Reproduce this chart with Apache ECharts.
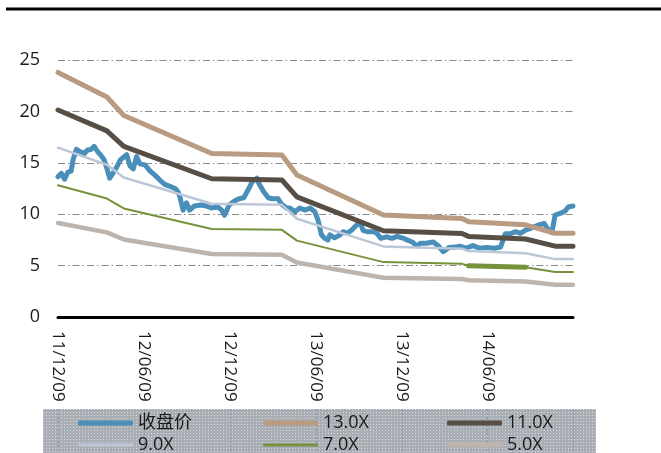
<!DOCTYPE html>
<html>
<head>
<meta charset="utf-8">
<script src="https://cdn.jsdelivr.net/npm/echarts@6/dist/echarts.min.js"></script>
<style>
  html, body { margin: 0; padding: 0; background: #fff; }
  #main { width: 661px; height: 453px; }
</style>
</head>
<body>
<div id="main"></div>
<script>
// axis range and tick labels (yy/mm/dd)
var startDate = '2011-12-09';
var endDate = '2014-12-08';
var tickLabels = ['11/12/09', '12/06/09', '12/12/09', '13/06/09', '13/12/09', '14/06/09'];
var yMin = 0, yMax = 25, yStep = 5;

var seriesNames = ['收盘价', '13.0X', '11.0X', '9.0X', '7.0X', '5.0X'];
var seriesColors = ['#4a8fb9', '#b89b80', '#574e46', '#bcc8d8', '#76933c', '#bdb5ad'];

// PE band knots
var bandDates = ['2011-12-09', '2012-03-22', '2012-04-27', '2012-10-31', '2013-03-29', '2013-04-30',
  '2013-10-31', '2014-04-16', '2014-04-30', '2014-08-29', '2014-10-31', '2014-12-08'];
var pe13 = [23.79, 21.40, 19.60, 15.90, 15.76, 13.81, 9.92, 9.59, 9.27, 8.97, 8.14, 8.14];
var pe11 = [20.13, 18.11, 16.59, 13.45, 13.33, 11.68, 8.39, 8.12, 7.84, 7.59, 6.89, 6.89];
var pe9 = [16.47, 14.81, 13.57, 11.01, 10.91, 9.56, 6.87, 6.64, 6.42, 6.21, 5.63, 5.63];
var pe7 = [12.81, 11.52, 10.56, 8.56, 8.48, 7.43, 5.34, 5.17, 4.99, 4.83, 4.38, 4.38];
var pe5 = [9.15, 8.23, 7.54, 6.12, 6.06, 5.31, 3.82, 3.69, 3.57, 3.45, 3.13, 3.13];
// short heavier piece of the 7.0X line
var pe7BoldDates = ['2014-04-30', '2014-08-29'];
var pe7Bold = [4.99, 4.83];

// close price
var priceDates = [
  '2011-12-09', '2011-12-16', '2011-12-23', '2011-12-30', '2012-01-06', '2012-01-10', '2012-01-17', '2012-01-24',
  '2012-02-03', '2012-02-10', '2012-02-17', '2012-02-24', '2012-03-02', '2012-03-09', '2012-03-16', '2012-03-23',
  '2012-03-28', '2012-04-04', '2012-04-12', '2012-04-20', '2012-05-03', '2012-05-10', '2012-05-17', '2012-05-24',
  '2012-05-31', '2012-06-11', '2012-06-22', '2012-07-02', '2012-07-13', '2012-07-23', '2012-08-03', '2012-08-14',
  '2012-08-20', '2012-08-24', '2012-08-31', '2012-09-07', '2012-09-14', '2012-09-17', '2012-09-24', '2012-10-08',
  '2012-10-19', '2012-10-30', '2012-11-13', '2012-11-21', '2012-11-27', '2012-12-07', '2012-12-19', '2012-12-28',
  '2013-01-07', '2013-01-16', '2013-01-25', '2013-02-04', '2013-02-08', '2013-02-18', '2013-02-28', '2013-03-08',
  '2013-03-21', '2013-03-28', '2013-04-08', '2013-04-15', '2013-04-26', '2013-05-06', '2013-05-17', '2013-05-28',
  '2013-06-07', '2013-06-14', '2013-06-21', '2013-06-28', '2013-07-05', '2013-07-09', '2013-07-19', '2013-07-31',
  '2013-08-07', '2013-08-14', '2013-08-23', '2013-09-04', '2013-09-11', '2013-09-18', '2013-09-27', '2013-10-10',
  '2013-10-18', '2013-10-25', '2013-11-07', '2013-11-18', '2013-11-29', '2013-12-13', '2013-12-20', '2013-12-31',
  '2014-01-10', '2014-01-17', '2014-01-30', '2014-02-14', '2014-02-25', '2014-03-07', '2014-03-19', '2014-04-02',
  '2014-04-11', '2014-04-25', '2014-05-09', '2014-05-23', '2014-06-09', '2014-06-23', '2014-07-07', '2014-07-17',
  '2014-07-28', '2014-08-08', '2014-08-18', '2014-08-29', '2014-09-09', '2014-09-23', '2014-10-08', '2014-10-14',
  '2014-10-24', '2014-10-31', '2014-11-12', '2014-11-21', '2014-11-28', '2014-12-08'
];
var priceValues = [
  13.65, 13.98, 13.4, 14.1, 14.2, 15.3, 16.3, 16.1,
  15.9, 16.25, 16.3, 16.6, 16.1, 15.75, 15.3, 14.3,
  13.5, 14.0, 14.6, 15.3, 15.8, 14.7, 14.4, 15.6,
  14.9, 14.8, 14.2, 13.8, 13.3, 12.9, 12.7, 12.5,
  12.2, 11.7, 10.4, 11.1, 10.4, 10.24, 10.8, 10.9,
  10.8, 10.6, 10.7, 10.4, 9.9, 10.9, 11.3, 11.5,
  11.6, 12.35, 13.16, 13.5, 13.0, 12.2, 11.6, 11.5,
  11.5, 11.0, 10.6, 10.6, 10.24, 10.6, 10.4, 10.6,
  10.24, 9.4, 8.0, 7.65, 7.5, 8.0, 7.7, 8.0,
  8.3, 8.14, 8.4, 8.95, 9.2, 8.4, 8.3, 8.3,
  8.1, 7.65, 7.8, 7.65, 7.85, 7.65, 7.5, 7.3,
  6.9, 7.17, 7.17, 7.3, 6.9, 6.35, 6.75, 6.8,
  6.9, 6.7, 6.95, 6.7, 6.75, 6.68, 6.8, 8.1,
  8.1, 8.3, 8.14, 8.46, 8.63, 8.9, 9.1, 8.63,
  8.2, 9.92, 10.1, 10.3, 10.7, 10.8
];

function toTime(s) {
  var p = s.split('-');
  return new Date(+p[0], +p[1] - 1, +p[2]).getTime();
}
function labelTime(l) {
  var p = l.split('/');
  return new Date(2000 + +p[0], +p[1] - 1, +p[2]).getTime();
}
function pairs(dates, values) {
  return dates.map(function (d, i) { return [toTime(d), values[i]]; });
}

var tickTimes = tickLabels.map(labelTime);
var font = '"Open Sans", "Noto Sans", "Noto Sans CJK SC", sans-serif';

var lineWidths = [5, 5, 5, 2.5, 2, 4.5];
var bandValues = [null, pe13, pe11, pe9, pe7, pe5];

var series = seriesNames.map(function (name, i) {
  return {
    name: name,
    type: 'line',
    data: i === 0 ? pairs(priceDates, priceValues) : pairs(bandDates, bandValues[i]),
    symbol: 'none',
    color: seriesColors[i],
    lineStyle: { width: lineWidths[i], color: seriesColors[i], cap: 'round', join: 'round' },
    animation: false
  };
});
series.push({
  name: '7.0X',
  type: 'line',
  data: pairs(pe7BoldDates, pe7Bold),
  symbol: 'none',
  lineStyle: { width: 5, color: seriesColors[4], cap: 'round' },
  animation: false
});

// dotted grey fill for the legend box
var pat = document.createElement('canvas');
pat.width = 3; pat.height = 3;
var pctx = pat.getContext('2d');
pctx.fillStyle = '#a9aeb4';
pctx.fillRect(0, 0, 3, 3);
pctx.fillStyle = '#d6d9dd';
pctx.fillRect(1, 1, 1, 1);

// one legend per entry: 3 columns x 2 rows
var legendCols = [78, 263, 447];
var legendRows = [414, 436];
var legendThick = [5, 5, 5, 3, 3, 5];
var legendOrder = ['收盘价', '13.0X', '11.0X', '9.0X', '7.0X', '5.0X'];
var legends = legendOrder.map(function (name, i) {
  return {
    data: [name],
    left: legendCols[i % 3],
    top: legendRows[Math.floor(i / 3)],
    padding: 0,
    icon: 'roundRect',
    itemWidth: 55,
    itemHeight: legendThick[i],
    z: 30,
    textStyle: { fontSize: 18, color: '#1a1a1a', fontFamily: font, lineHeight: 18 }
  };
});

var myChart = echarts.init(document.getElementById('main'));
myChart.setOption({
  backgroundColor: '#fff',
  animation: false,
  grid: { left: 58, right: 88, top: 60, bottom: 136, outerBoundsMode: 'none' },
  legend: legends,
  xAxis: {
    type: 'value',
    min: toTime(startDate),
    max: toTime(endDate),
    axisLine: { show: true, onZero: false, lineStyle: { color: '#000', width: 3 } },
    axisTick: { show: false },
    splitLine: { show: false },
    axisLabel: {
      customValues: tickTimes,
      rotate: -90,
      margin: 14,
      fontSize: 17,
      color: '#1a1a1a',
      fontFamily: font,
      formatter: function (v) {
        var i = tickTimes.indexOf(v);
        return i >= 0 ? tickLabels[i] : '';
      }
    }
  },
  yAxis: {
    type: 'value',
    min: yMin,
    max: yMax,
    interval: yStep,
    axisLine: { show: false },
    axisTick: { show: false },
    axisLabel: { fontSize: 18, color: '#1a1a1a', margin: 18, fontFamily: font },
    splitLine: { lineStyle: { color: '#8a8a8a', width: 1, type: [7, 3, 1.5, 3] } }
  },
  series: series
});

// legend box and page rule, placed from the axis
var g = [
  { type: 'line', z: 20, shape: { x1: 6, y1: 9, x2: 661, y2: 9 }, style: { stroke: '#000', lineWidth: 3 } },
  { type: 'rect', z: 20, shape: { x: 43, y: 409, width: 553, height: 50 }, style: { fill: { image: pat, repeat: 'repeat' } } }
];
var gridTimes = tickTimes.concat([labelTime('14/12/09')]);
gridTimes.forEach(function (t) {
  var x = Math.round(myChart.convertToPixel({ xAxisIndex: 0 }, t)) + 0.5;
  g.push({ type: 'line', z: 21, shape: { x1: x, y1: 409, x2: x, y2: 453 },
    style: { stroke: '#8496ae', lineWidth: 1, lineDash: [2, 2] } });
});
myChart.setOption({ graphic: g });
</script>
</body>
</html>
